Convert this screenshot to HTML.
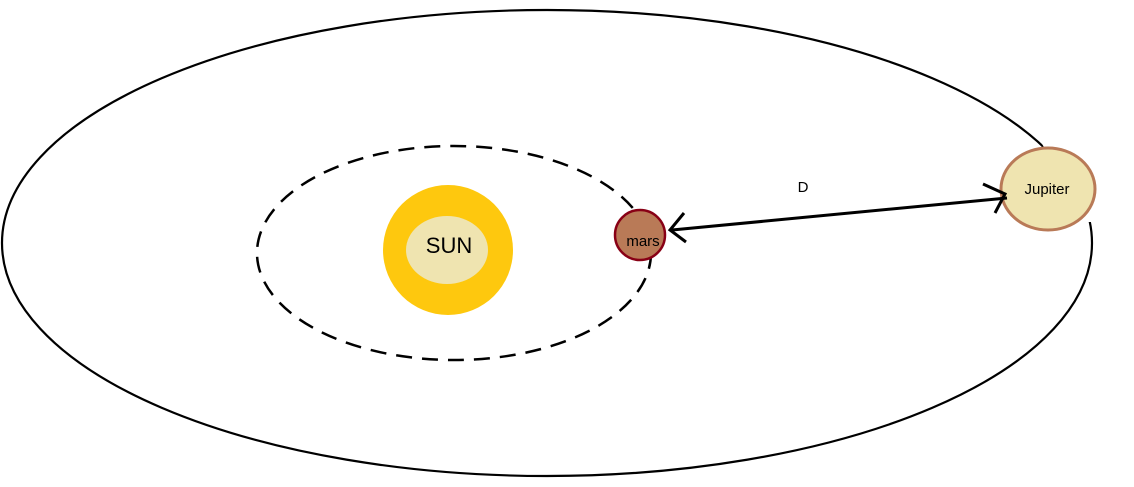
<!DOCTYPE html>
<html><head><style>body{margin:0;background:#fff}svg{display:block}</style></head>
<body>
<svg width="1134" height="487" xmlns="http://www.w3.org/2000/svg" font-family="Liberation Sans, sans-serif">
<ellipse cx="547" cy="243" rx="545" ry="233" fill="none" stroke="#000" stroke-width="2.2"/>
<path d="M1040 140 L1100 160 L1100 222 L1085 222 Z" fill="#fff"/>
<ellipse cx="454" cy="253" rx="197" ry="107" fill="none" stroke="#000" stroke-width="2.5" stroke-dasharray="16,10"/>
<circle cx="448" cy="250" r="65" fill="#FEC80E"/>
<ellipse cx="447" cy="250" rx="41" ry="34" fill="#EFE4B0"/>
<text x="449" y="247" font-size="22" text-anchor="middle" dominant-baseline="middle" fill="#000">SUN</text>
<circle cx="640" cy="235" r="25" fill="#B97A57" stroke="#880015" stroke-width="2.5"/>
<text x="643" y="242" font-size="15" text-anchor="middle" dominant-baseline="middle">mars</text>
<ellipse cx="1048" cy="189" rx="47" ry="41" fill="#EFE4B0" stroke="#B97A57" stroke-width="3"/>
<text x="1047" y="190" font-size="15" text-anchor="middle" dominant-baseline="middle">Jupiter</text>
<line x1="672" y1="230" x2="1007" y2="198" stroke="#000" stroke-width="3"/>
<polyline points="684,213 670,230 686,242" fill="none" stroke="#000" stroke-width="3"/>
<polyline points="983,184 1005,194 995,213" fill="none" stroke="#000" stroke-width="3"/>
<text x="803" y="188" font-size="15" text-anchor="middle" dominant-baseline="middle">D</text>
</svg>
</body></html>
